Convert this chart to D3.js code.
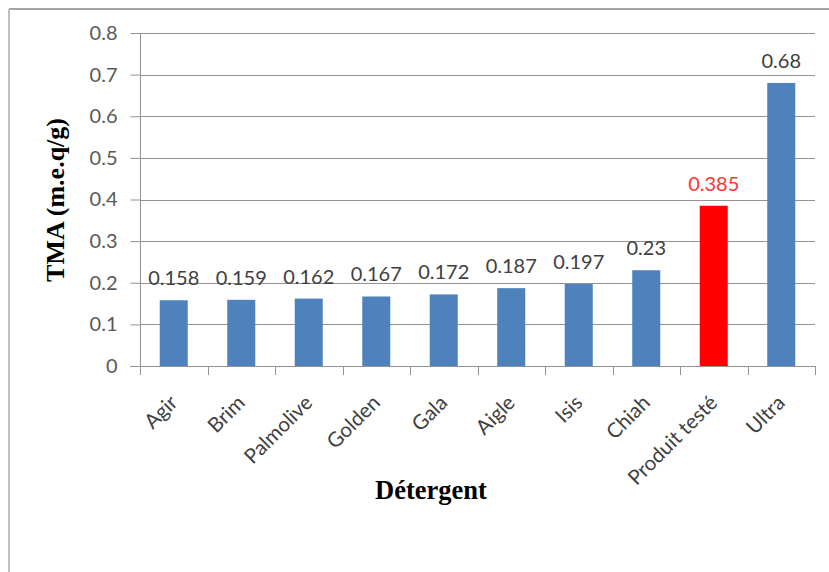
<!DOCTYPE html>
<html><head><meta charset="utf-8">
<script src="https://cdn.jsdelivr.net/npm/d3@7"></script>
<style>body{margin:0;background:#fff}svg{display:block}</style>
</head><body>
<script>
const categories = ["Agir","Brim","Palmolive","Golden","Gala","Aigle","Isis","Chiah","Produit testé","Ultra"];
const values = [0.158,0.159,0.162,0.167,0.172,0.187,0.197,0.23,0.385,0.68];
const valueLabels = ["0.158","0.159","0.162","0.167","0.172","0.187","0.197","0.23","0.385","0.68"];
const yTicks = [0,0.1,0.2,0.3,0.4,0.5,0.6,0.7,0.8];
const highlight = "Produit testé";

const W = 829, H = 572;
const sans = "Lato, Carlito, 'Liberation Sans', Arial, sans-serif";
const serif = "'Liberation Serif', 'Times New Roman', serif";
const svg = d3.select("body").append("svg").attr("width", W).attr("height", H);
svg.append("rect").attr("width", W).attr("height", H).attr("fill", "#fff");
// outer frame (top and left visible)
svg.append("line").attr("x1", 9).attr("x2", W).attr("y1", 9).attr("y2", 9).attr("stroke", "#a6a6a6").attr("stroke-width", 2);
svg.append("line").attr("x1", 9).attr("x2", 9).attr("y1", 9).attr("y2", H).attr("stroke", "#bfbfbf").attr("stroke-width", 2);

const x = d3.scaleBand().domain(categories).range([140, 815]).paddingInner(0.585).paddingOuter(0.2925);
const y = d3.scaleLinear().domain([0, 0.8]).range([366, 33]);

// gridlines
svg.append("g").selectAll("line").data(yTicks.slice(1)).join("line")
  .attr("x1", 140).attr("x2", 815).attr("y1", d => Math.round(y(d)) + 0.5).attr("y2", d => Math.round(y(d)) + 0.5)
  .attr("stroke", "#939393").attr("stroke-width", 1);

// y axis
const yAxis = svg.append("g").attr("transform", "translate(140.5,0)")
  .call(d3.axisLeft(y).tickValues(yTicks).tickSize(10).tickPadding(13).tickFormat(d => d === 0 ? "0" : d3.format(".1f")(d)));
yAxis.select(".domain").attr("stroke", "#939393").attr("d", `M0,${y(0.8)}V${y(0)}`);
yAxis.selectAll(".tick line").attr("stroke", "#939393");
yAxis.selectAll("text").attr("fill", "#595959").style("font-family", sans).style("font-size", "20px");

// x axis
const tickPos = d3.range(categories.length + 1).map(i => 140 + i * (675 / categories.length));
svg.append("line").attr("x1", 130).attr("x2", 815).attr("y1", 366.5).attr("y2", 366.5).attr("stroke", "#939393");
svg.append("g").selectAll("line").data(tickPos).join("line")
  .attr("x1", d => Math.round(d) + 0.5).attr("x2", d => Math.round(d) + 0.5).attr("y1", 366).attr("y2", 375)
  .attr("stroke", "#939393");

// bars
svg.append("g").selectAll("rect").data(categories).join("rect")
  .attr("x", d => x(d)).attr("width", x.bandwidth())
  .attr("y", (d, i) => y(values[i])).attr("height", (d, i) => y(0) - y(values[i]))
  .attr("fill", d => d === highlight ? "#ff0000" : "#4f81bd");

// value labels
svg.append("g").selectAll("text").data(categories).join("text")
  .attr("x", d => x(d) + x.bandwidth() / 2)
  .attr("y", (d, i) => y(values[i]) - 15)
  .attr("text-anchor", "middle")
  .attr("fill", d => d === highlight ? "#ff3333" : "#404040")
  .style("font-family", sans).style("font-size", "20px")
  .text((d, i) => valueLabels[i]);

// category labels rotated
svg.append("g").selectAll("text").data(categories).join("text")
  .attr("transform", d => `translate(${x(d) + x.bandwidth() / 2 + 5},${404}) rotate(-45)`)
  .attr("text-anchor", "end")
  .attr("fill", "#404040")
  .style("font-family", sans).style("font-size", "20.5px")
  .text(d => d);

// axis titles
svg.append("text").attr("transform", "translate(64,200) rotate(-90)").attr("text-anchor", "middle")
  .style("font-family", serif).style("font-weight", "bold").style("font-size", "26px")
  .attr("fill", "#000").text("TMA (m.e.q/g)");
svg.append("text").attr("x", 431).attr("y", 499).attr("text-anchor", "middle")
  .style("font-family", serif).style("font-weight", "bold").style("font-size", "26.5px")
  .attr("fill", "#000").text("Détergent");
</script>
</body></html>
